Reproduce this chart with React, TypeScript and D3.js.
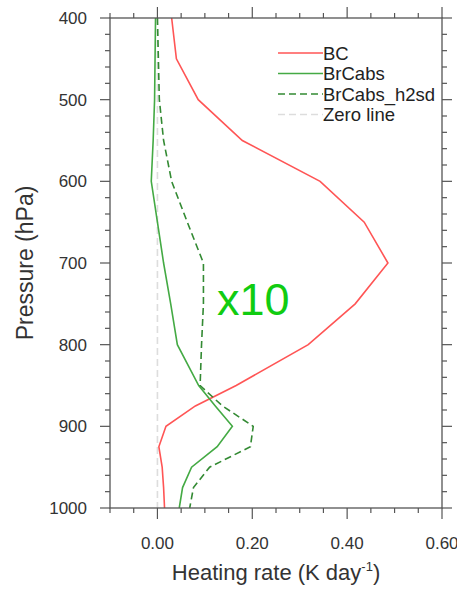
import React from "react";
import * as d3 from "d3";

const levels = [400, 450, 500, 550, 600, 650, 700, 750, 800, 850, 875, 900, 925, 950, 975, 1000];
const bcValues = [0.03, 0.04, 0.086, 0.179, 0.343, 0.436, 0.486, 0.417, 0.318, 0.166, 0.08, 0.018, 0.003, 0.01, 0.013, 0.015];
const brcValues = [-0.004, -0.005, -0.006, -0.009, -0.013, 0.0, 0.013, 0.028, 0.042, 0.087, 0.122, 0.158, 0.126, 0.072, 0.053, 0.046];
const h2sdValues = [0.0, 0.002, 0.004, 0.013, 0.03, 0.063, 0.097, 0.097, 0.093, 0.09, 0.137, 0.202, 0.196, 0.11, 0.076, 0.068];

const xTickLabels = [0, 0.2, 0.4, 0.6];
const yTickLabels = [400, 500, 600, 700, 800, 900, 1000];
const legendNames = ["BC", "BrCabs", "BrCabs_h2sd", "Zero line"];

const W = 457, H = 590;
const M = { left: 110, right: 442, top: 18, bottom: 508 };
const FONT = "'Liberation Sans', Arial, Helvetica, sans-serif";
const AX = "#555";
const TXT = "#333";

export default function App() {
  const x = d3.scaleLinear().domain([-0.1, 0.6]).range([M.left, M.right]);
  const y = d3.scaleLinear().domain([400, 1000]).range([M.top, M.bottom]);

  const mk = (vals: number[]) =>
    d3.line<number>().x((v) => x(v)).y((_, i) => y(levels[i]))(vals) as string;

  const xMinor = d3.range(-0.1, 0.6001, 0.05).map((v) => +v.toFixed(2));
  const yMinor = d3.range(400, 1001, 20);
  const isXMajor = (v: number) => xTickLabels.some((t) => Math.abs(t - v) < 1e-6);
  const isYMajor = (v: number) => yTickLabels.includes(v);

  const series = [
    { name: legendNames[0], color: "#ff5555", dash: "none", w: 1.6 },
    { name: legendNames[1], color: "#44aa44", dash: "none", w: 1.6 },
    { name: legendNames[2], color: "#338a33", dash: "7,4", w: 1.6 },
    { name: legendNames[3], color: "#dddddd", dash: "7,4", w: 1.6 },
  ];

  return (
    <svg width={W} height={H} style={{ position: "absolute", left: 0, top: 0 }} fontFamily={FONT}>
      <rect width={W} height={H} fill="#fff" />
      {/* zero line */}
      <line x1={x(0)} x2={x(0)} y1={y(400)} y2={y(1000)} stroke="#dddddd" strokeWidth={1.6} strokeDasharray="7,4" />
      {/* data */}
      <path d={mk(bcValues)} fill="none" stroke={series[0].color} strokeWidth={1.6} />
      <path d={mk(brcValues)} fill="none" stroke={series[1].color} strokeWidth={1.6} />
      <path d={mk(h2sdValues)} fill="none" stroke={series[2].color} strokeWidth={1.6} strokeDasharray="7,4" />

      {/* frame */}
      <rect x={M.left} y={M.top} width={M.right - M.left} height={M.bottom - M.top} fill="none" stroke={AX} strokeWidth={1.3} />
      {/* x ticks */}
      {xMinor.map((v) => {
        const len = isXMajor(v) ? 11 : 5;
        return (
          <g key={"xt" + v}>
            <line x1={x(v)} x2={x(v)} y1={M.bottom} y2={M.bottom + len} stroke={AX} strokeWidth={1.2} />
            <line x1={x(v)} x2={x(v)} y1={M.top} y2={M.top - len} stroke={AX} strokeWidth={1.2} />
          </g>
        );
      })}
      {yMinor.map((v) => {
        const len = isYMajor(v) ? 10 : 5;
        return (
          <g key={"yt" + v}>
            <line x1={M.left} x2={M.left - len} y1={y(v)} y2={y(v)} stroke={AX} strokeWidth={1.2} />
            <line x1={M.right} x2={M.right + len} y1={y(v)} y2={y(v)} stroke={AX} strokeWidth={1.2} />
          </g>
        );
      })}
      {xTickLabels.map((v) => (
        <text key={"xl" + v} x={x(v)} y={549} textAnchor="middle" fontSize={17} fill={TXT}>
          {d3.format(".2f")(v)}
        </text>
      ))}
      {yTickLabels.map((v) => (
        <text key={"yl" + v} x={87} y={y(v)} dy="0.36em" textAnchor="end" fontSize={17} fill={TXT}>
          {v}
        </text>
      ))}
      {/* axis titles */}
      <text x={(M.left + M.right) / 2} y={580} textAnchor="middle" fontSize={22} fill={TXT}>
        Heating rate (K day<tspan fontSize={13} dy={-9}>-1</tspan>
        <tspan dy={9}>)</tspan>
      </text>
      <text transform={`translate(33,${(M.top + M.bottom) / 2}) rotate(-90)`} textAnchor="middle" fontSize={23} fill={TXT}>
        Pressure (hPa)
      </text>

      {/* legend */}
      {series.map((s, i) => {
        const ly = 53 + i * 20.5;
        return (
          <g key={s.name}>
            <line x1={278} x2={323} y1={ly} y2={ly} stroke={s.color} strokeWidth={1.6} strokeDasharray={s.dash} />
            <text x={323} y={ly} dy="0.36em" fontSize={18.5} fill="#222">
              {s.name}
            </text>
          </g>
        );
      })}

      <text x={217} y={315} fontSize={45} fill="#11cc11">
        x10
      </text>
    </svg>
  );
}
